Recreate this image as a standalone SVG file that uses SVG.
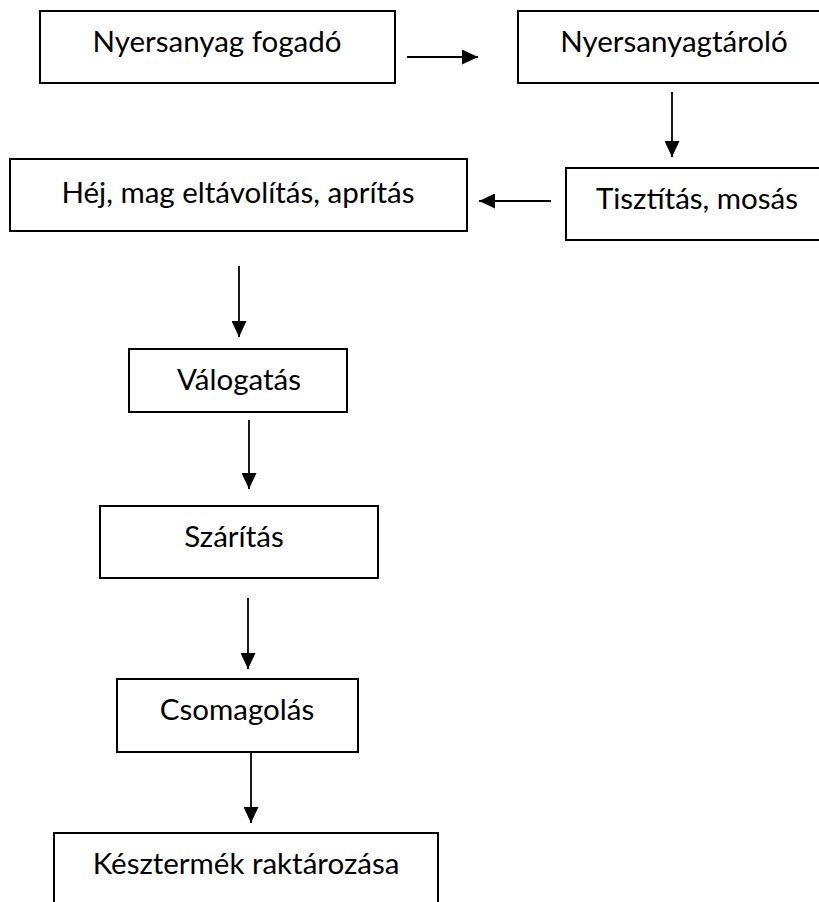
<svg xmlns="http://www.w3.org/2000/svg" width="819" height="902" viewBox="0 0 819 902">
  <defs>
    <style>
      .box { fill: #ffffff; stroke: #000000; stroke-width: 2; }
      .lbl { font-family: "Lato", "Open Sans", "Liberation Sans", sans-serif; font-size: 29.5px; fill: #000000; text-anchor: middle; }
      .conn { stroke: #000000; stroke-width: 1.8; fill: none; marker-end: url(#arrow); }
    </style>
    <marker id="arrow" markerUnits="userSpaceOnUse" markerWidth="17" markerHeight="15" refX="16" refY="7.5" orient="auto">
      <path d="M0,0 L16,7.5 L0,15 z" fill="#000000"/>
    </marker>
  </defs>
  <rect width="819" height="902" fill="#ffffff"/>

  <g id="n1">
    <rect class="box" x="40" y="11" width="355" height="72"/>
    <text class="lbl" x="217" y="52">Nyersanyag fogadó</text>
  </g>
  <g id="n2">
    <rect class="box" x="518" y="11" width="312" height="72"/>
    <text class="lbl" x="674" y="52">Nyersanyagtároló</text>
  </g>
  <g id="n3">
    <rect class="box" x="566" y="168" width="264" height="72"/>
    <text class="lbl" x="697" y="209">Tisztítás, mosás</text>
  </g>
  <g id="n4">
    <rect class="box" x="10" y="159" width="457" height="72"/>
    <text class="lbl" x="238" y="203">Héj, mag eltávolítás, aprítás</text>
  </g>
  <g id="n5">
    <rect class="box" x="129" y="349" width="218" height="63"/>
    <text class="lbl" x="239" y="390">Válogatás</text>
  </g>
  <g id="n6">
    <rect class="box" x="100" y="506" width="278" height="72"/>
    <text class="lbl" x="234" y="547">Szárítás</text>
  </g>
  <g id="n7">
    <rect class="box" x="117" y="679" width="241" height="73"/>
    <text class="lbl" x="237" y="720">Csomagolás</text>
  </g>
  <g id="n8">
    <rect class="box" x="54" y="833" width="384" height="80"/>
    <text class="lbl" x="246" y="874">Késztermék raktározása</text>
  </g>

  <g id="connectors">
    <line class="conn" x1="407" y1="57" x2="478" y2="57"/>
    <line class="conn" x1="672" y1="92" x2="672" y2="157"/>
    <line class="conn" x1="551" y1="201" x2="479" y2="201"/>
    <line class="conn" x1="239" y1="266" x2="239" y2="337"/>
    <line class="conn" x1="249" y1="420" x2="249" y2="489"/>
    <line class="conn" x1="248" y1="598" x2="248" y2="669"/>
    <line class="conn" x1="251" y1="752" x2="251" y2="823"/>
  </g>
</svg>
